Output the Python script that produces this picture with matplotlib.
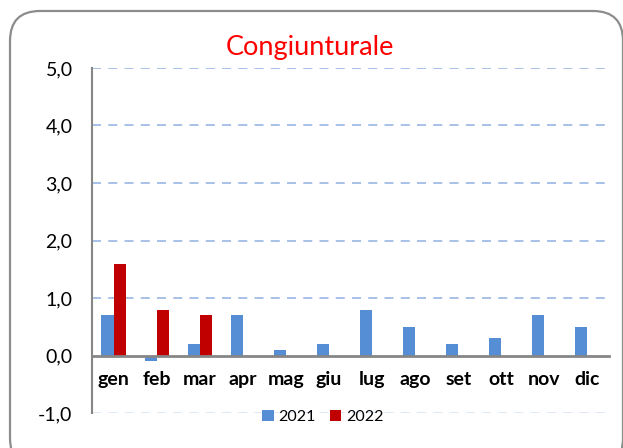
import numpy as np
import matplotlib.pyplot as plt
from matplotlib.patches import FancyBboxPatch
from matplotlib.ticker import FuncFormatter

plt.rcParams['font.family'] = ['Lato', 'DejaVu Sans']

#months and monthly values
mesi = ['gen', 'feb', 'mar', 'apr', 'mag', 'giu', 'lug', 'ago', 'set', 'ott', 'nov', 'dic']
val_2021 = [0.7, -0.1, 0.2, 0.7, 0.1, 0.2, 0.8, 0.5, 0.2, 0.3, 0.7, 0.5]
val_2022 = [1.6, 0.8, 0.7]
anni = ['2021', '2022']

fig = plt.figure(figsize=(6.23, 4.48), dpi=100)
ax = fig.add_axes([92/623, 1 - 413/448, 517/623, 345/448])

#rounded frame around the chart
frame = FancyBboxPatch((10/100, -0.2), 6.13, 4.48 - 0.11 + 0.2,
                       boxstyle='round,pad=0,rounding_size=0.3',
                       transform=fig.dpi_scale_trans, fill=False,
                       edgecolor='#8c8c8c', linewidth=1.6, zorder=0)
fig.patches.append(frame)

x = np.arange(len(mesi))
w = 0.28
ax.bar(x - w/2, val_2021, w, color='#558ed5', label=anni[0], zorder=3)
ax.bar(x[:len(val_2022)] + w/2, val_2022, w, color='#c00000', label=anni[1], zorder=3)

ax.set_xlim(-0.5, len(mesi) - 0.5)
ax.set_ylim(-1, 5)
ax.set_yticks(np.arange(-1, 6, 1))
ax.yaxis.set_major_formatter(FuncFormatter(lambda v, p: f'{v:.1f}'.replace('.', ',')))

#dashed grid lines
for yv in range(1, 6):
    ax.axhline(yv, color='#a3bce6', linestyle=(0, (5, 4)), linewidth=1.3, zorder=1)
ax.axhline(-1, color='#dce6f5', linestyle=(0, (5, 4)), linewidth=1.3, zorder=1)

for s in ['top', 'right']:
    ax.spines[s].set_visible(False)
ax.spines['bottom'].set_position(('data', 0))
ax.spines['bottom'].set_color('#868686')
ax.spines['bottom'].set_linewidth(2)
ax.spines['bottom'].set_zorder(4)
ax.spines['left'].set_color('#868686')
ax.spines['left'].set_linewidth(1.5)

ax.set_xticks(x)
ax.set_xticklabels(mesi, fontsize=14, fontweight='bold')
ax.tick_params(axis='x', length=0, pad=11)
ax.tick_params(axis='y', length=0, pad=14, labelsize=14)

fig.text(310/623, 1 - 48/448, 'Congiunturale', color='#ff0000', fontsize=19.5,
         ha='center', va='center')

fig.legend(loc='center', bbox_to_anchor=(323/623, 1 - 417/448), ncol=2,
           frameon=False, fontsize=11.5, handlelength=0.7, handleheight=0.7,
           handletextpad=0.3, columnspacing=0.9)

plt.savefig('out.png', dpi=100)
